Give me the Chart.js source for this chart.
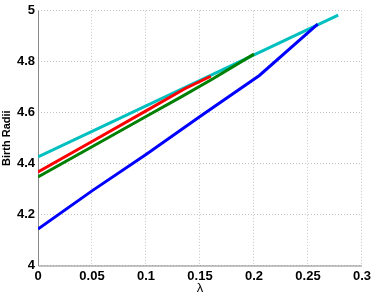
<!DOCTYPE html>
<html>
<head>
<meta charset="utf-8">
<script src="https://cdn.jsdelivr.net/npm/chart.js@4/dist/chart.umd.min.js"></script>
<style>
  html, body { margin: 0; padding: 0; background: #fff; }
  #wrap { width: 374px; height: 296px; }
</style>
</head>
<body>
<div id="wrap"><canvas id="c"></canvas></div>
<script>
// values
const xTicks = [0, 0.05, 0.1, 0.15, 0.2, 0.25, 0.3];
const yTicks = [4, 4.2, 4.4, 4.6, 4.8, 5];

const blueX  = [0, 0.05, 0.1, 0.15, 0.205, 0.259];
const blueY  = [4.143, 4.293, 4.436, 4.585, 4.746, 4.948];

const greenX = [0, 0.05, 0.1, 0.131, 0.162, 0.2];
const greenY = [4.348, 4.466, 4.585, 4.658, 4.733, 4.83];

const redX   = [0, 0.05, 0.1, 0.1355, 0.16];
const redY   = [4.367, 4.487, 4.607, 4.693, 4.743];

const cyanX  = [0, 0.278];
const cyanY  = [4.426, 4.983];

function pts(xs, ys) {
  return xs.map((x, i) => ({ x, y: ys[i] }));
}

function series(label, xs, ys, color) {
  return {
    label,
    data: pts(xs, ys),
    borderColor: color,
    backgroundColor: color,
    borderWidth: 3,
    pointRadius: 0,
    tension: 0,
    fill: false
  };
}

// solid left and bottom axis lines (grid lines themselves are dotted)
const axisLines = {
  id: 'axisLines',
  beforeDatasetsDraw(chart) {
    const { ctx, chartArea: a } = chart;
    ctx.save();
    ctx.strokeStyle = '#888';
    ctx.lineWidth = 1;
    ctx.setLineDash([]);
    ctx.beginPath();
    ctx.moveTo(a.left + 0.5, a.top);
    ctx.lineTo(a.left + 0.5, a.bottom + 0.5);
    ctx.lineTo(a.right, a.bottom + 0.5);
    ctx.stroke();
    ctx.restore();
  }
};

const tickFont = { family: 'Liberation Sans, Arial, sans-serif', size: 13, weight: 'bold' };
const gridCfg = { color: '#c4c4c4', drawTicks: false };
const borderCfg = { display: false, dash: [1, 2] };

new Chart(document.getElementById('c'), {
  type: 'line',
  data: {
    datasets: [
      series('blue', blueX, blueY, '#0000ff'),
      series('green', greenX, greenY, '#008000'),
      series('red', redX, redY, '#ff0000'),
      series('cyan', cyanX, cyanY, '#00bfbf')
    ]
  },
  plugins: [axisLines],
  options: {
    animation: false,
    responsive: true,
    maintainAspectRatio: false,
    layout: { padding: { top: 10, right: 11, left: 0, bottom: 0 } },
    plugins: { legend: { display: false }, tooltip: { enabled: false } },
    scales: {
      x: {
        type: 'linear',
        min: 0, max: 0.3,
        afterBuildTicks: s => { s.ticks = xTicks.map(v => ({ value: v })); },
        afterFit: s => { s.height = 30.5; },
        grid: gridCfg,
        border: borderCfg,
        ticks: { color: '#000', font: tickFont, padding: 3, maxRotation: 0,
                 callback: v => String(v) },
        title: { display: true, text: 'λ', color: '#000', padding: 0,
                 font: { family: 'Liberation Sans, Arial, sans-serif', size: 13 } }
      },
      y: {
        min: 4, max: 5,
        afterBuildTicks: s => { s.ticks = yTicks.map(v => ({ value: v })); },
        afterFit: s => { s.width = 38; },
        grid: gridCfg,
        border: borderCfg,
        ticks: { color: '#000', font: tickFont, padding: 3,
                 callback: v => String(v) },
        title: { display: true, text: 'Birth Radii', color: '#000', padding: 0,
                 font: { family: 'Liberation Sans, Arial, sans-serif', size: 11, weight: 'bold' } }
      }
    }
  }
});
</script>
</body>
</html>
